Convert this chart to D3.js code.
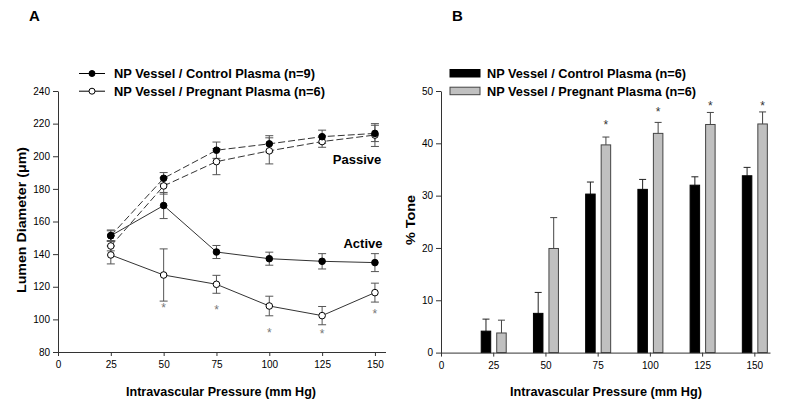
<!DOCTYPE html>
<html><head><meta charset="utf-8">
<script src="https://cdn.jsdelivr.net/npm/d3@7"></script>
<style>
body{margin:0;background:#fff;}
svg{display:block;font-family:"Liberation Sans",Arial,sans-serif;}
</style></head>
<body><svg id="c" width="791" height="410"></svg>
<script>
// ---- Data ----
const pressures = [25, 50, 75, 100, 125, 150];
const xTicks = [0, 25, 50, 75, 100, 125, 150];
const yTicksA = [80, 100, 120, 140, 160, 180, 200, 220, 240];
const yTicksB = [0, 10, 20, 30, 40, 50];

const passiveControl = [151.3, 186.5, 203.7, 207.6, 212.0, 214.0];
const passiveControlErr = [3, 3.5, 5, 5, 4, 5];
const passivePregnant = [145.0, 181.8, 196.7, 203.3, 209.0, 213.0];
const passivePregnantErr = [3, 5, 8, 8, 3.5, 7];
const activeControl = [151.3, 169.8, 141.3, 137.2, 135.6, 134.8];
const activeControlErr = [3.5, 8, 4, 4, 4.7, 5.5];
const activePregnant = [139.5, 127.2, 121.5, 108.2, 102.3, 116.4];
const activePregnantErr = [5.5, 16, 5.5, 6, 5.6, 5.8];
const starA = [null, 107.4, 106.2, 92.5, 91.5, 103.7];

const toneControl = [4.1, 7.5, 30.3, 31.2, 32.0, 33.8];
const toneControlErr = [2.3, 4.0, 2.3, 1.9, 1.6, 1.6];
const tonePregnant = [3.75, 19.9, 39.7, 41.9, 43.6, 43.7];
const tonePregnantErr = [2.45, 5.9, 1.5, 2.1, 2.3, 2.3];
const starB = [null, null, 43.65, 46.25, 47.3, 47.3];

const legendA = ["NP Vessel / Control Plasma (n=9)", "NP Vessel / Pregnant Plasma (n=6)"];
const legendB = ["NP Vessel / Control Plasma (n=6)", "NP Vessel / Pregnant Plasma (n=6)"];

// ---- Drawing ----
const svg = d3.select("#c");

function styleAxis(g){
  g.selectAll("path,line").attr("stroke","#333").attr("stroke-width",1);
  g.selectAll("text").attr("font-size",10).attr("fill","#000");
}

// Panel A
const xA = d3.scaleLinear().domain([0,155]).range([58,385.5]);
const yA = d3.scaleLinear().domain([80,240]).range([352,91]);

svg.append("g").attr("transform","translate(0,352)")
  .call(d3.axisBottom(xA).tickValues(xTicks).tickSize(4).tickSizeOuter(0).tickPadding(5))
  .call(styleAxis);
svg.append("g").attr("transform","translate(58,0)")
  .call(d3.axisLeft(yA).tickValues(yTicksA).tickSize(5).tickSizeOuter(0).tickPadding(3))
  .call(styleAxis);

function seriesA(vals, errs, dashed){
  const pts = pressures.map((p,i)=>({x:xA(p), y:yA(vals[i]), e:errs[i], v:vals[i]}));
  const line = d3.line().x(d=>d.x).y(d=>d.y);
  svg.append("path").datum(pts).attr("d",line).attr("fill","none")
    .attr("stroke","#333").attr("stroke-width",1)
    .attr("stroke-dasharray", dashed ? "7,3" : null);
  const eg = svg.append("g").attr("stroke","#555").attr("stroke-width",1);
  pts.forEach(d=>{
    const t = yA(d.v + d.e), b = yA(d.v - d.e);
    eg.append("line").attr("x1",d.x).attr("x2",d.x).attr("y1",t).attr("y2",b);
    eg.append("line").attr("x1",d.x-4).attr("x2",d.x+4).attr("y1",t).attr("y2",t);
    eg.append("line").attr("x1",d.x-4).attr("x2",d.x+4).attr("y1",b).attr("y2",b);
  });
  return pts;
}
const markers = [];
markers.push([seriesA(passivePregnant, passivePregnantErr, true), false]);
markers.push([seriesA(passiveControl, passiveControlErr, true), true]);
markers.push([seriesA(activePregnant, activePregnantErr, false), false]);
markers.push([seriesA(activeControl, activeControlErr, false), true]);
markers.forEach(([pts, filled])=>{
  svg.append("g").selectAll("circle").data(pts).join("circle")
    .attr("cx",d=>d.x).attr("cy",d=>d.y).attr("r",3.3)
    .attr("fill", filled ? "#000" : "#fff").attr("stroke","#000").attr("stroke-width",1);
});
svg.append("g").selectAll("text").data(pressures.map((p,i)=>({p, s:starA[i]})).filter(d=>d.s!==null))
  .join("text").attr("x",d=>xA(d.p)).attr("y",d=>yA(d.s)+5).attr("text-anchor","middle")
  .attr("font-size",12).attr("fill","#777").text("*");

svg.append("text").attr("x",357).attr("y",164).attr("text-anchor","middle")
  .attr("font-size",13).attr("font-weight","bold").attr("fill","#000").text("Passive");
svg.append("text").attr("x",363).attr("y",248).attr("text-anchor","middle")
  .attr("font-size",13).attr("font-weight","bold").attr("fill","#000").text("Active");

// legend A
legendA.forEach((t,i)=>{
  const y = 73.5 + i*17.7;
  svg.append("line").attr("x1",79).attr("x2",105).attr("y1",y).attr("y2",y).attr("stroke","#000");
  svg.append("circle").attr("cx",92).attr("cy",y).attr("r",3)
    .attr("fill", i===0 ? "#000" : "#fff").attr("stroke","#000");
  svg.append("text").attr("x",114).attr("y",y+4.3).attr("font-size",12).attr("font-weight","bold")
    .attr("textLength", i===0 ? 201 : 211).attr("lengthAdjust","spacingAndGlyphs").text(t);
});

svg.append("text").attr("x",221).attr("y",396).attr("text-anchor","middle")
  .attr("font-size",12).attr("font-weight","bold").attr("textLength",190)
  .attr("lengthAdjust","spacingAndGlyphs").text("Intravascular Pressure (mm Hg)");
svg.append("text").attr("transform","translate(26,220) rotate(-90)").attr("text-anchor","middle")
  .attr("font-size",13).attr("font-weight","bold").attr("textLength",146)
  .attr("lengthAdjust","spacingAndGlyphs").text("Lumen Diameter (\u03bcm)");
svg.append("text").attr("x",29).attr("y",21).attr("font-size",15).attr("font-weight","bold").text("A");

// Panel B
const xB = d3.scaleLinear().domain([0,157.5]).range([441,770]);
const yB = d3.scaleLinear().domain([0,50]).range([352.6,91]);

function barsB(vals, errs, off, w, fill, stroke, errColor){
  const g = svg.append("g");
  pressures.forEach((p,i)=>{
    const x0 = xB(p)+off;
    g.append("line").attr("x1",x0+w/2).attr("x2",x0+w/2)
      .attr("y1",yB(vals[i])).attr("y2",yB(vals[i]+errs[i])).attr("stroke",errColor);
    g.append("line").attr("x1",x0+w/2-3.5).attr("x2",x0+w/2+3.5)
      .attr("y1",yB(vals[i]+errs[i])).attr("y2",yB(vals[i]+errs[i])).attr("stroke",errColor);
    g.append("rect").attr("x",x0).attr("y",yB(vals[i])).attr("width",w)
      .attr("height",yB(0)-yB(vals[i])).attr("fill",fill).attr("stroke",stroke).attr("stroke-width",1);
  });
}
barsB(toneControl, toneControlErr, -12, 9.5, "#000", "#000", "#222");
barsB(tonePregnant, tonePregnantErr, 3.5, 9.5, "#c0c0c0", "#444", "#444");

svg.append("g").attr("transform","translate(0,352.6)")
  .call(d3.axisBottom(xB).tickValues(xTicks).tickSize(4).tickSizeOuter(0).tickPadding(5))
  .call(styleAxis);
svg.append("g").attr("transform","translate(441,0)")
  .call(d3.axisLeft(yB).tickValues(yTicksB).tickSize(5).tickSizeOuter(0).tickPadding(3))
  .call(styleAxis);

svg.append("g").selectAll("text").data(pressures.map((p,i)=>({p, s:starB[i]})).filter(d=>d.s!==null))
  .join("text").attr("x",d=>xB(d.p)+8.25).attr("y",d=>yB(d.s)+5).attr("text-anchor","middle")
  .attr("font-size",12).attr("fill","#333").text("*");

legendB.forEach((t,i)=>{
  const y = 73.5 + i*17.7;
  svg.append("rect").attr("x",450).attr("y",y-4).attr("width",30).attr("height",7.5)
    .attr("fill", i===0 ? "#000" : "#c0c0c0").attr("stroke", i===0 ? "#000" : "#444");
  svg.append("text").attr("x",487).attr("y",y+4.3).attr("font-size",12).attr("font-weight","bold")
    .attr("textLength", i===0 ? 199 : 209).attr("lengthAdjust","spacingAndGlyphs").text(t);
});

svg.append("text").attr("x",606).attr("y",396).attr("text-anchor","middle")
  .attr("font-size",12).attr("font-weight","bold").attr("textLength",192)
  .attr("lengthAdjust","spacingAndGlyphs").text("Intravascular Pressure (mm Hg)");
svg.append("text").attr("transform","translate(415,220) rotate(-90)").attr("text-anchor","middle")
  .attr("font-size",13).attr("font-weight","bold").attr("textLength",50)
  .attr("lengthAdjust","spacingAndGlyphs").text("% Tone");
svg.append("text").attr("x",452).attr("y",21).attr("font-size",15).attr("font-weight","bold").text("B");
</script></body></html>
